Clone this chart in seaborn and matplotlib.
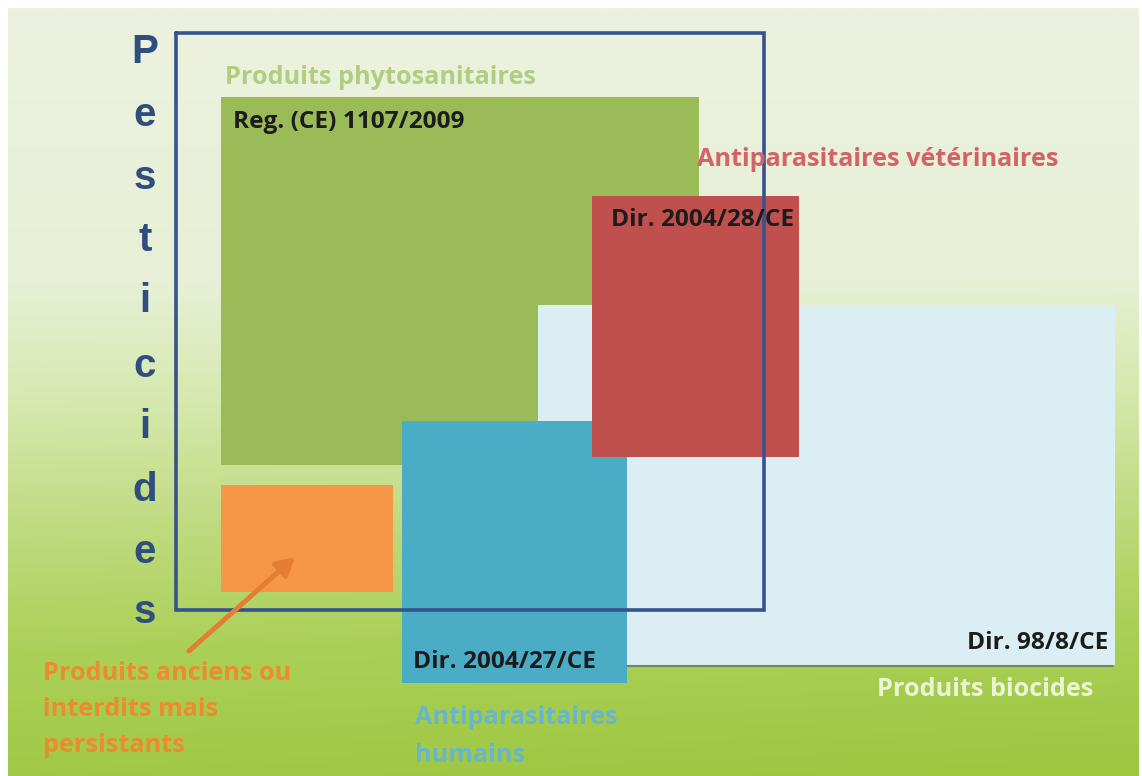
import numpy as np
import matplotlib
matplotlib.use("Agg")
import matplotlib.pyplot as plt
import seaborn as sns
from matplotlib.colors import LinearSegmentedColormap

# ---- data (pixel-space diagram: left, top, right, bottom) ----
box_names = ["Produits phytosanitaires", "Produits biocides", "Produits anciens",
             "Antiparasitaires humains", "Antiparasitaires vétérinaires"]
box_left = [221, 538, 221, 402, 592]
box_top = [97, 305, 485, 421, 196]
box_right = [699, 1115, 393, 627, 799]
box_bottom = [465, 665, 592, 683, 457]
box_colors = ["#9bbb59", "#dbeef4", "#f79646", "#4bacc6", "#c0504d"]

outline_left, outline_top, outline_right, outline_bottom = 176, 33, 764, 610

vertical_word = "Pesticides"
letter_y = [52, 115, 178, 240, 301, 366, 427, 490, 552, 612]

reg_labels = ["Reg. (CE) 1107/2009", "Dir. 2004/28/CE", "Dir. 2004/27/CE"]
reg_x = [233, 611, 413]
reg_y = [122, 220, 662]

sns.set_theme(style="white")
plt.rcParams['font.family'] = ['Open Sans', 'DejaVu Sans']

W, H = 1142, 776
fig = plt.figure(figsize=(W / 100, H / 100), dpi=100)
ax = fig.add_axes([0, 0, 1, 1])
ax.set_xlim(0, W)
ax.set_ylim(H, 0)
ax.axis("off")
fig.patch.set_facecolor("white")

# background gradient
cmap = LinearSegmentedColormap.from_list(
    "bg", [(0.0, "#ecf2df"), (0.35, "#e7f0d6"), (0.5, "#d6e8ae"),
           (0.65, "#bfdb80"), (0.8, "#abd058"), (1.0, "#9ec63f")])
ny, nx = 300, 200
yy = np.linspace(0, 1, ny)[:, None]
xx = np.linspace(0, 1, nx)[None, :]
grad = yy * (1 - 0.06 * (1 - xx) * yy)
ax.imshow(grad, cmap=cmap, extent=[8, W - 3, H, 8], aspect="auto",
          vmin=0, vmax=1, zorder=0, interpolation="bilinear")

# rectangles in layer order
for z, i in enumerate(range(len(box_names))):
    ax.bar(box_left[i], box_bottom[i] - box_top[i], width=box_right[i] - box_left[i],
           bottom=box_top[i], align="edge", color=box_colors[i], linewidth=0,
           zorder=2 + z)
    if i == 1:
        ax.plot([box_right[3], box_right[1] - 2], [box_bottom[1] + 1, box_bottom[1] + 1],
                color="#5f7a5a", lw=1.5, zorder=2 + z, alpha=0.8)

# Pesticides outline
ax.plot([outline_left, outline_right, outline_right, outline_left, outline_left],
        [outline_top, outline_top, outline_bottom, outline_bottom, outline_top],
        color="#35538e", lw=2.6, zorder=10, solid_joinstyle="miter")

# vertical letters
for ch, y in zip(vertical_word, letter_y):
    ax.text(145, y, ch, fontsize=29, fontweight="bold", color="#2f4d7e",
            ha="center", va="center", family=["Liberation Sans", "DejaVu Sans"], zorder=11)

# region labels
lab_kw = dict(fontsize=18.2, fontweight="bold", va="center", zorder=12)
ax.text(225, 78, "Produits phytosanitaires", color="#b4cc80", **lab_kw)
ax.text(697, 160, "Antiparasitaires vétérinaires", color="#d3636b", **lab_kw)
ax.text(877, 690, "Produits biocides", color="#eaf5d6", **lab_kw)
ax.text(415, 718, "Antiparasitaires", color="#67b6cc", **lab_kw)
ax.text(415, 755, "humains", color="#67b6cc", **lab_kw)
for t, y in zip(["Produits anciens ou", "interdits mais", "persistants"], [673, 710, 746]):
    ax.text(43, y, t, color="#ee8a30", **lab_kw)

for t, x, y in zip(reg_labels, reg_x, reg_y):
    ax.text(x, y, t, fontsize=17.6, fontweight="bold", color="#1c1c1c",
            va="center", ha="left", zorder=12)
ax.text(1108, 643, "Dir. 98/8/CE", fontsize=17.6, fontweight="bold", color="#1c1c1c",
        va="center", ha="right", zorder=12)

# arrow
ax.annotate("", xy=(295, 557), xytext=(189, 651),
            arrowprops=dict(arrowstyle="-|>,head_length=0.9,head_width=0.5",
                            color="#e57d32", lw=3.5, shrinkA=0, shrinkB=0),
            zorder=13)

fig.savefig("out.png", dpi=100)
